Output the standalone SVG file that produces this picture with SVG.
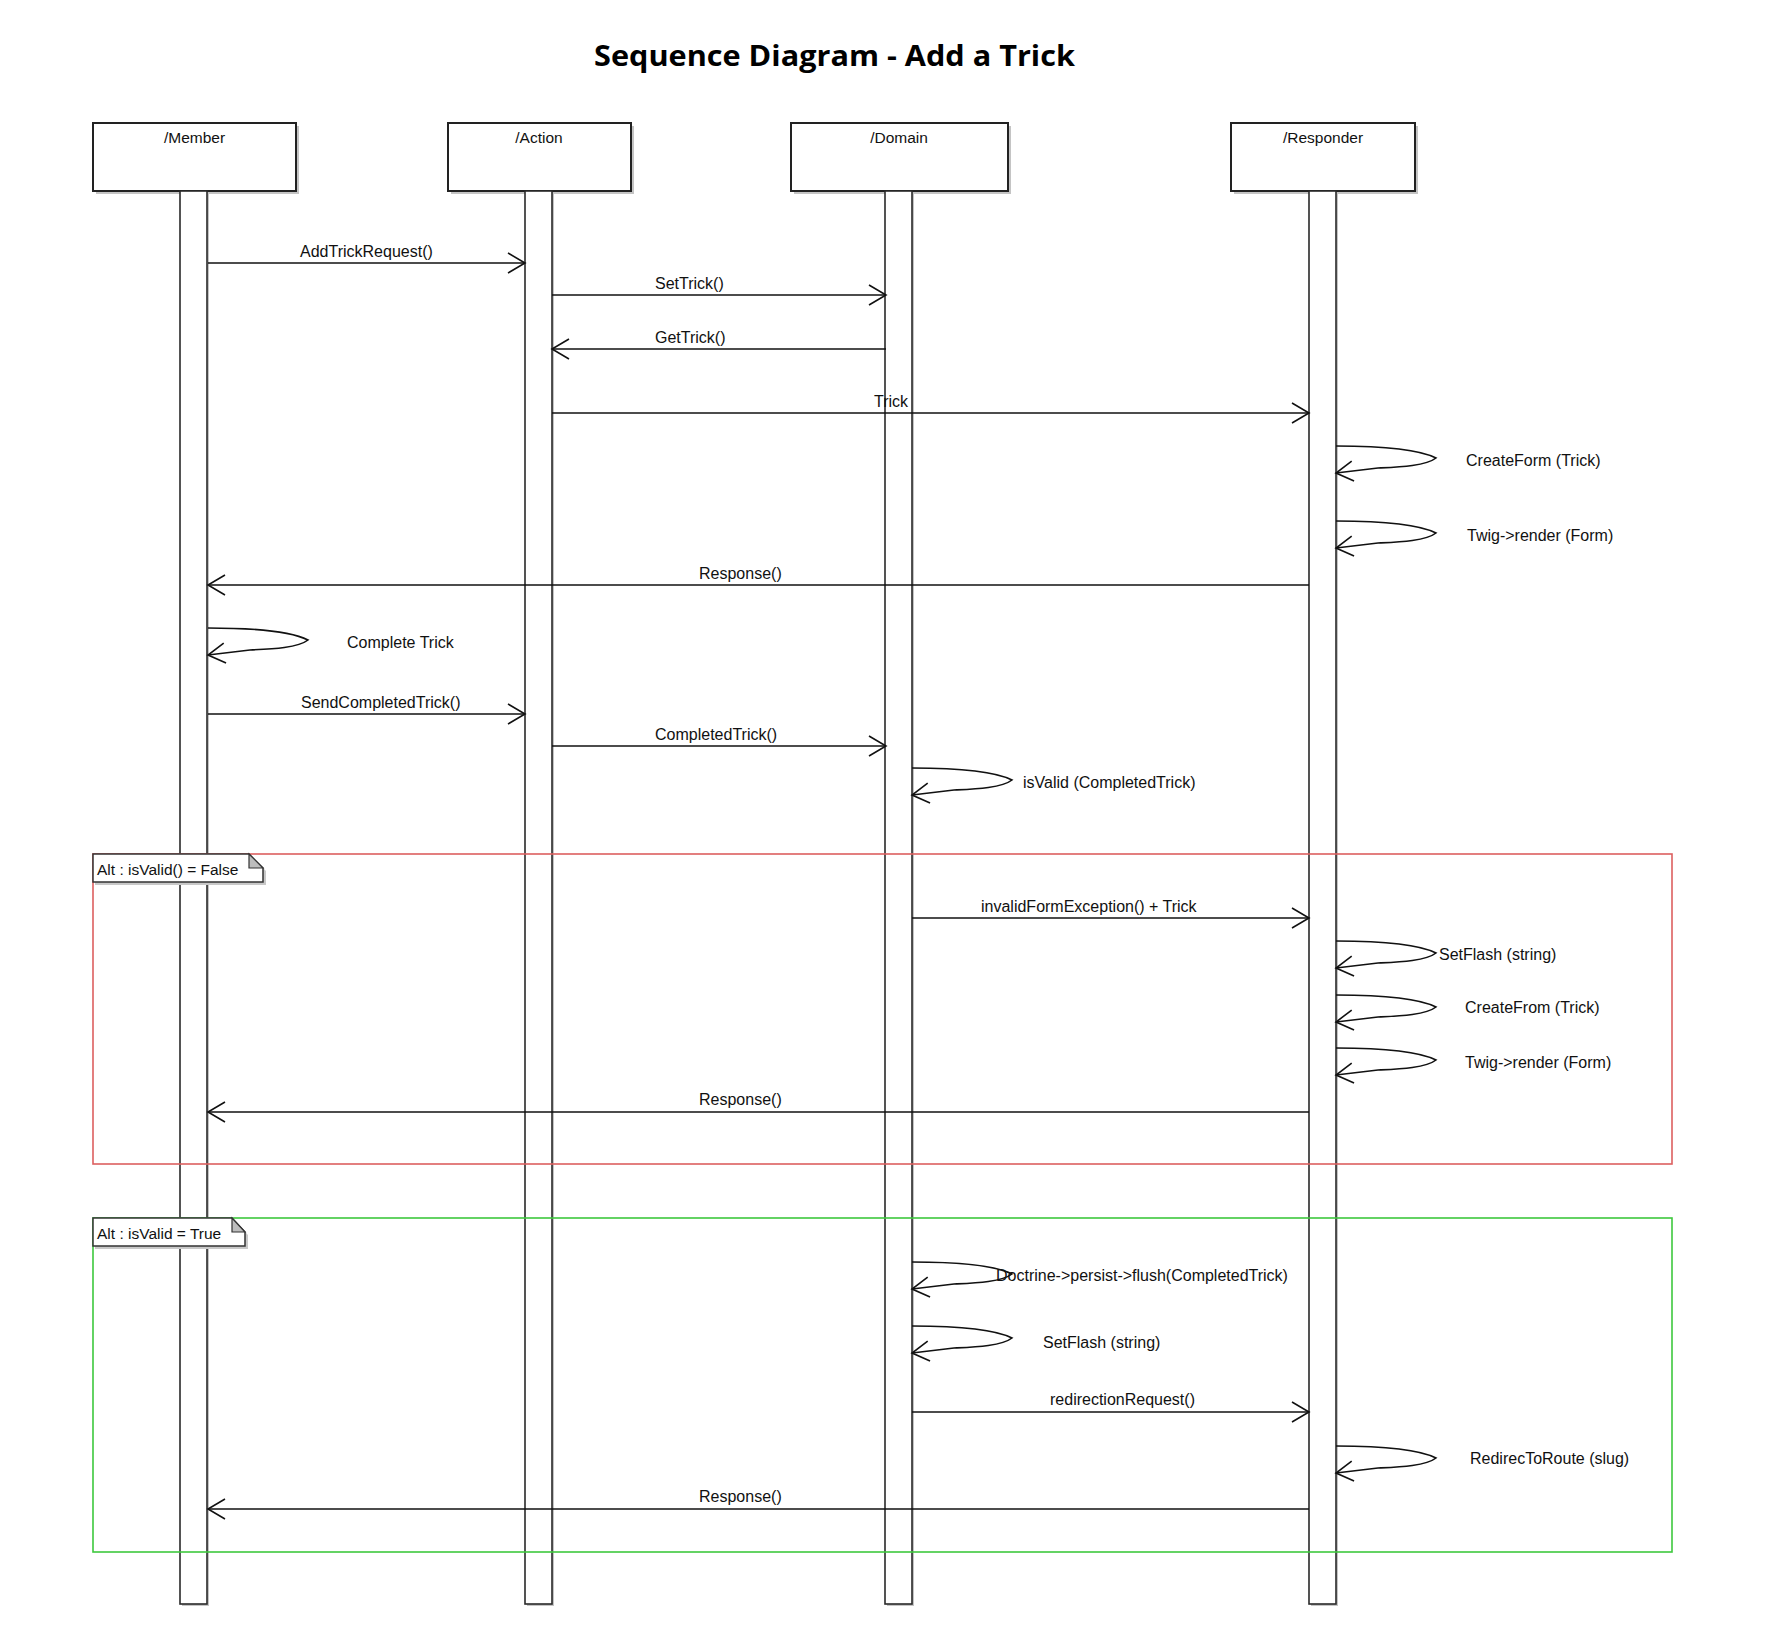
<svg xmlns="http://www.w3.org/2000/svg" xmlns:xlink="http://www.w3.org/1999/xlink" width="1768" height="1636" viewBox="0 0 1768 1636">
<style>
.box{fill:#fff;stroke:#222;stroke-width:2}
.shadow{fill:#c4c4c4}
.bar{fill:#fff;stroke:#2a2a2a;stroke-width:1.6}
.msg{fill:none;stroke:#111;stroke-width:1.6}
.lbl{font-family:"Liberation Sans",Arial,sans-serif;font-size:16px;fill:#111}
.name{font-family:"Liberation Sans",Arial,sans-serif;font-size:15.5px;fill:#111;text-anchor:middle}
.title{font-family:"Open Sans","Noto Sans",sans-serif;font-size:29px;font-weight:bold;fill:#000}
.tab{fill:#fff;stroke:#333;stroke-width:1.5}
.fold{fill:#bdbdbd;stroke:#333;stroke-width:1.2}
.tabtxt{font-family:"Liberation Sans",Arial,sans-serif;font-size:15.5px;fill:#111}
</style>
<defs>
<marker id="open" markerUnits="userSpaceOnUse" markerWidth="22" markerHeight="24" viewBox="0 0 22 24" refX="19" refY="12" orient="auto">
<path d="M2,2 L19,12 L2,22" fill="none" stroke="#111" stroke-width="1.6"/>
</marker>
<path id="selfloop" d="M0,0 C45,0 82,3 100,12 C90,20 62,21 42,22 L0,27" fill="none" stroke="#111" stroke-width="1.6" marker-end="url(#open)"/>
</defs>
<rect width="1768" height="1636" fill="#fff"/>
<text class="title" x="594" y="66" textLength="481" lengthAdjust="spacingAndGlyphs">Sequence Diagram - Add a Trick</text>

<g id="member">
<rect class="shadow" x="96" y="126" width="203" height="68"/>
<rect class="box" x="93" y="123" width="203" height="68"/>
<text class="name" x="194.5" y="143">/Member</text>
<rect class="shadow" x="182" y="193" width="27" height="1413"/>
<rect class="bar" x="180" y="191" width="27" height="1413"/>
</g>
<g id="action">
<rect class="shadow" x="451" y="126" width="183" height="68"/>
<rect class="box" x="448" y="123" width="183" height="68"/>
<text class="name" x="539" y="143">/Action</text>
<rect class="shadow" x="527" y="193" width="27" height="1413"/>
<rect class="bar" x="525" y="191" width="27" height="1413"/>
</g>
<g id="domain">
<rect class="shadow" x="794" y="126" width="217" height="68"/>
<rect class="box" x="791" y="123" width="217" height="68"/>
<text class="name" x="899" y="143">/Domain</text>
<rect class="shadow" x="887" y="193" width="27" height="1413"/>
<rect class="bar" x="885" y="191" width="27" height="1413"/>
</g>
<g id="responder">
<rect class="shadow" x="1234" y="126" width="184" height="68"/>
<rect class="box" x="1231" y="123" width="184" height="68"/>
<text class="name" x="1323" y="143">/Responder</text>
<rect class="shadow" x="1311" y="193" width="27" height="1413"/>
<rect class="bar" x="1309" y="191" width="27" height="1413"/>
</g>

<g id="connectors">
<path class="msg" d="M208,263 H525" marker-end="url(#open)"/>
<text class="lbl" x="300" y="257">AddTrickRequest()</text>
<path class="msg" d="M552,295 H886" marker-end="url(#open)"/>
<text class="lbl" x="655" y="289">SetTrick()</text>
<path class="msg" d="M886,349 H552" marker-end="url(#open)"/>
<text class="lbl" x="655" y="343">GetTrick()</text>
<path class="msg" d="M552,413 H1309" marker-end="url(#open)"/>
<text class="lbl" x="874" y="407">Trick</text>
<use xlink:href="#selfloop" x="1336" y="446"/>
<text class="lbl" x="1466" y="466">CreateForm (Trick)</text>
<use xlink:href="#selfloop" x="1336" y="521"/>
<text class="lbl" x="1467" y="541">Twig-&gt;render (Form)</text>
<path class="msg" d="M1309,585 H208" marker-end="url(#open)"/>
<text class="lbl" x="699" y="579">Response()</text>
<use xlink:href="#selfloop" x="208" y="628"/>
<text class="lbl" x="347" y="648">Complete Trick</text>
<path class="msg" d="M208,714 H525" marker-end="url(#open)"/>
<text class="lbl" x="301" y="708">SendCompletedTrick()</text>
<path class="msg" d="M552,746 H886" marker-end="url(#open)"/>
<text class="lbl" x="655" y="740">CompletedTrick()</text>
<use xlink:href="#selfloop" x="912" y="768"/>
<text class="lbl" x="1023" y="788">isValid (CompletedTrick)</text>

<path class="msg" d="M912,918 H1309" marker-end="url(#open)"/>
<text class="lbl" x="981" y="912">invalidFormException() + Trick</text>
<use xlink:href="#selfloop" x="1336" y="941"/>
<text class="lbl" x="1439" y="960">SetFlash (string)</text>
<use xlink:href="#selfloop" x="1336" y="995"/>
<text class="lbl" x="1465" y="1013">CreateFrom (Trick)</text>
<use xlink:href="#selfloop" x="1336" y="1048"/>
<text class="lbl" x="1465" y="1068">Twig-&gt;render (Form)</text>
<path class="msg" d="M1309,1112 H208" marker-end="url(#open)"/>
<text class="lbl" x="699" y="1105">Response()</text>

<use xlink:href="#selfloop" x="912" y="1262"/>
<text class="lbl" x="996" y="1281">Doctrine-&gt;persist-&gt;flush(CompletedTrick)</text>
<use xlink:href="#selfloop" x="912" y="1326"/>
<text class="lbl" x="1043" y="1348">SetFlash (string)</text>
<path class="msg" d="M912,1412 H1309" marker-end="url(#open)"/>
<text class="lbl" x="1050" y="1405">redirectionRequest()</text>
<use xlink:href="#selfloop" x="1336" y="1446"/>
<text class="lbl" x="1470" y="1464">RedirecToRoute (slug)</text>
<path class="msg" d="M1309,1509 H208" marker-end="url(#open)"/>
<text class="lbl" x="699" y="1502">Response()</text>
</g>

<g id="alt-false">
<rect x="93" y="854" width="1579" height="310" fill="none" stroke="#dc5f5f" stroke-width="1.6"/>
<path d="M95,857 H252 L266,871 V885 H95 Z" fill="#c8c8c8"/>
<path class="tab" d="M93,854 H249 L263,868 V882 H93 Z"/>
<path class="fold" d="M249,854 V868 H263 Z"/>
<text class="tabtxt" x="97" y="875">Alt : isValid() = False</text>
</g>
<g id="alt-true">
<rect x="93" y="1218" width="1579" height="334" fill="none" stroke="#3ec83e" stroke-width="1.6"/>
<path d="M95,1221 H235 L248,1235 V1249 H95 Z" fill="#c8c8c8"/>
<path class="tab" d="M93,1218 H232 L245,1232 V1246 H93 Z"/>
<path class="fold" d="M232,1218 V1232 H245 Z"/>
<text class="tabtxt" x="97" y="1239">Alt : isValid = True</text>
</g>
</svg>
